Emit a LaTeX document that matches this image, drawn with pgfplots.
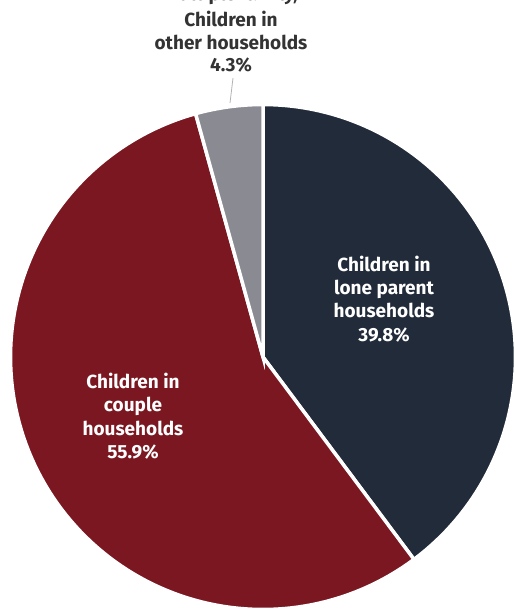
\documentclass[border=0pt]{standalone}
\usepackage{pgfplots}
\usepackage{pgfplotstable}
\usepackage{fontspec}
\setmainfont{Fira Sans}
\pgfplotsset{compat=1.18}
\definecolor{navy}{HTML}{222B3A}
\definecolor{wine}{HTML}{7B1720}
\definecolor{slate}{HTML}{8A8A93}
\definecolor{txt}{HTML}{333333}
\pgfplotstableread{
name value
lone 39.8
couple 55.9
other 4.3
}\piedata
\begin{document}
\begin{tikzpicture}
\pgfplotstablegetelem{0}{value}\of\piedata \let\va\pgfplotsretval
\pgfplotstablegetelem{1}{value}\of\piedata \let\vb\pgfplotsretval
\pgfplotstablegetelem{2}{value}\of\piedata \let\vc\pgfplotsretval
\pgfmathsetmacro{\aA}{90}
\pgfmathsetmacro{\aB}{90-3.6*\va}
\pgfmathsetmacro{\aC}{\aB-3.6*\vb}
\pgfmathsetmacro{\aD}{\aC-3.6*\vc}
\begin{axis}[hide axis, scale only axis, width=514pt, height=613pt,
  xmin=0, xmax=514, ymin=0, ymax=613, y dir=reverse, clip=false]
\addplot[fill=navy, draw=white, line width=3.5pt, domain=\aB:\aA, samples=90]
  ({263+252.5*cos(x)},{357-252.5*sin(x)}) -- (axis cs:263,357) -- cycle;
\addplot[fill=wine, draw=white, line width=3.5pt, domain=\aC:\aB, samples=120]
  ({263+252.5*cos(x)},{357-252.5*sin(x)}) -- (axis cs:263,357) -- cycle;
\addplot[fill=slate, draw=white, line width=3.5pt, domain=\aD:\aC, samples=20]
  ({263+252.5*cos(x)},{357-252.5*sin(x)}) -- (axis cs:263,357) -- cycle;
\draw[gray!60, line width=0.8pt] (axis cs:233,78) -- (axis cs:230,103);
\node[white, font=\bfseries\fontsize{19}{23.3}\selectfont, align=center] at (axis cs:384,299) {Children in\\lone parent\\households\\39.8\%};
\node[white, font=\bfseries\fontsize{19}{23.5}\selectfont, align=center] at (axis cs:133,416) {Children in\\couple\\households\\55.9\%};
\node[txt, font=\bfseries\fontsize{19}{22.5}\selectfont, align=center] at (axis cs:231,-5) {Multiple family,};
\node[txt, font=\bfseries\fontsize{19}{22.5}\selectfont, align=center] at (axis cs:231,42) {Children in\\other households\\4.3\%};
\end{axis}
\pgfresetboundingbox
\useasboundingbox (0,0) rectangle (514pt,613pt);
\end{tikzpicture}
\end{document}
